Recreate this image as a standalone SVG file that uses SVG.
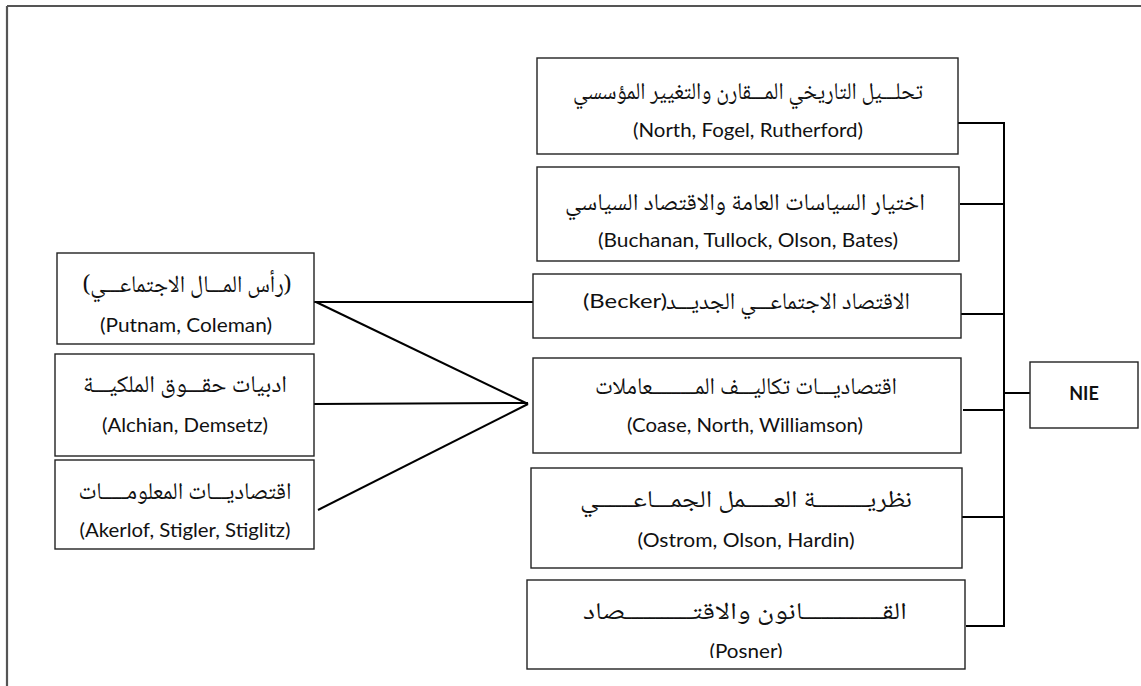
<svg xmlns="http://www.w3.org/2000/svg" width="1141" height="686" viewBox="0 0 1141 686">
  <style>
    .box { fill: #ffffff; stroke: #222222; stroke-width: 1.4; }
    .frame { fill: none; stroke: #555555; stroke-width: 2.2; }
    .wire { fill: none; stroke: #000000; stroke-width: 2; }
    .ar { font-family: "Noto Naskh Arabic", "Noto Sans Arabic", "DejaVu Sans", sans-serif; font-size: 24px; fill: #111111; text-anchor: middle; direction: rtl; }
    .la { font-family: Lato, "Open Sans", sans-serif; font-size: 19px; fill: #111111; text-anchor: middle; }
    .hub { font-family: Lato, "Open Sans", sans-serif; font-size: 18px; font-weight: bold; fill: #111111; text-anchor: middle; }
  </style>
  <defs>
    <clipPath id="posnerClip"><rect x="527" y="580" width="438" height="78"/></clipPath>
  </defs>

  <rect width="1141" height="686" fill="#ffffff"/>

  <!-- page frame: top and left rules only -->
  <path class="frame" d="M7 6 H1141 M7 6 V686"/>

  <!-- connectors -->
  <g id="connectors">
    <!-- NIE bus -->
    <path class="wire" d="M957 123 H1004 V626 H966"/>
    <path class="wire" d="M960 204 H1004"/>
    <path class="wire" d="M961 314 H1004"/>
    <path class="wire" d="M963 410 H1004"/>
    <path class="wire" d="M961 517 H1004"/>
    <path class="wire" d="M1003 393 H1030"/>
    <!-- left fan -->
    <path class="wire" d="M313 302 H533"/>
    <path class="wire" d="M316 302 L528 404"/>
    <path class="wire" d="M314 404 L528 403"/>
    <path class="wire" d="M318 510 L528 404"/>
  </g>

  <!-- right column -->
  <g id="node-history">
    <rect class="box" x="537" y="58" width="421" height="96"/>
    <text class="ar" x="748" y="99" textLength="350" lengthAdjust="spacingAndGlyphs">تحلـــيل التاريخي المـــقارن والتغيير المؤسسي</text>
    <text class="la" x="748" y="137" textLength="230" lengthAdjust="spacingAndGlyphs">(North, Fogel, Rutherford)</text>
  </g>
  <g id="node-publicchoice">
    <rect class="box" x="537" y="167" width="422" height="94"/>
    <text class="ar" x="745" y="210" textLength="360" lengthAdjust="spacingAndGlyphs">اختيار السياسات العامة والاقتصاد السياسي</text>
    <text class="la" x="748" y="247" textLength="300" lengthAdjust="spacingAndGlyphs">(Buchanan, Tullock, Olson, Bates)</text>
  </g>
  <g id="node-newsocial">
    <rect class="box" x="533" y="274" width="428" height="64"/>
    <text class="ar" x="788" y="309" textLength="244" lengthAdjust="spacingAndGlyphs">الاقتصاد الاجتماعـــي الجديـــد</text>
    <text class="la" x="625" y="308" textLength="84" lengthAdjust="spacingAndGlyphs">(Becker)</text>
  </g>
  <g id="node-transaction">
    <rect class="box" x="533" y="358" width="428" height="95"/>
    <text class="ar" x="746" y="394" textLength="302" lengthAdjust="spacingAndGlyphs">اقتصاديـــات تكاليـــف المـــــــــعاملات</text>
    <text class="la" x="745" y="432" textLength="236" lengthAdjust="spacingAndGlyphs">(Coase, North, Williamson)</text>
  </g>
  <g id="node-collective">
    <rect class="box" x="531" y="468" width="431" height="100"/>
    <text class="ar" x="746" y="507" textLength="332" lengthAdjust="spacingAndGlyphs">نظريـــــــــة العـــــمل الجمـــاعــــــي</text>
    <text class="la" x="746" y="547" textLength="217" lengthAdjust="spacingAndGlyphs">(Ostrom, Olson, Hardin)</text>
  </g>
  <g id="node-law">
    <rect class="box" x="527" y="580" width="438" height="89"/>
    <text class="ar" x="745" y="619" textLength="324" lengthAdjust="spacingAndGlyphs">القـــــــــــــانون والاقتـــــــــــصاد</text>
    <text class="la" x="746" y="658" textLength="73" lengthAdjust="spacingAndGlyphs" clip-path="url(#posnerClip)">(Posner)</text>
  </g>

  <!-- hub -->
  <g id="node-nie">
    <rect class="box" x="1030" y="362" width="108" height="66"/>
    <text class="hub" x="1084" y="400">NIE</text>
  </g>

  <!-- left column -->
  <g id="node-socialcapital">
    <rect class="box" x="57" y="253" width="257" height="91"/>
    <text class="ar" x="187" y="292" textLength="209" lengthAdjust="spacingAndGlyphs">(رأس المـــال الاجتماعـــي)</text>
    <text class="la" x="186" y="332" textLength="172" lengthAdjust="spacingAndGlyphs">(Putnam, Coleman)</text>
  </g>
  <g id="node-property">
    <rect class="box" x="55" y="354" width="259" height="102"/>
    <text class="ar" x="185" y="392" textLength="204" lengthAdjust="spacingAndGlyphs">ادبيات حقـــوق الملكيـــة</text>
    <text class="la" x="185" y="432" textLength="166" lengthAdjust="spacingAndGlyphs">(Alchian, Demsetz)</text>
  </g>
  <g id="node-information">
    <rect class="box" x="55" y="460" width="259" height="89"/>
    <text class="ar" x="185" y="499" textLength="213" lengthAdjust="spacingAndGlyphs">اقتصاديـــات المعلومـــــات</text>
    <text class="la" x="185" y="537" textLength="211" lengthAdjust="spacingAndGlyphs">(Akerlof, Stigler, Stiglitz)</text>
  </g>
</svg>
